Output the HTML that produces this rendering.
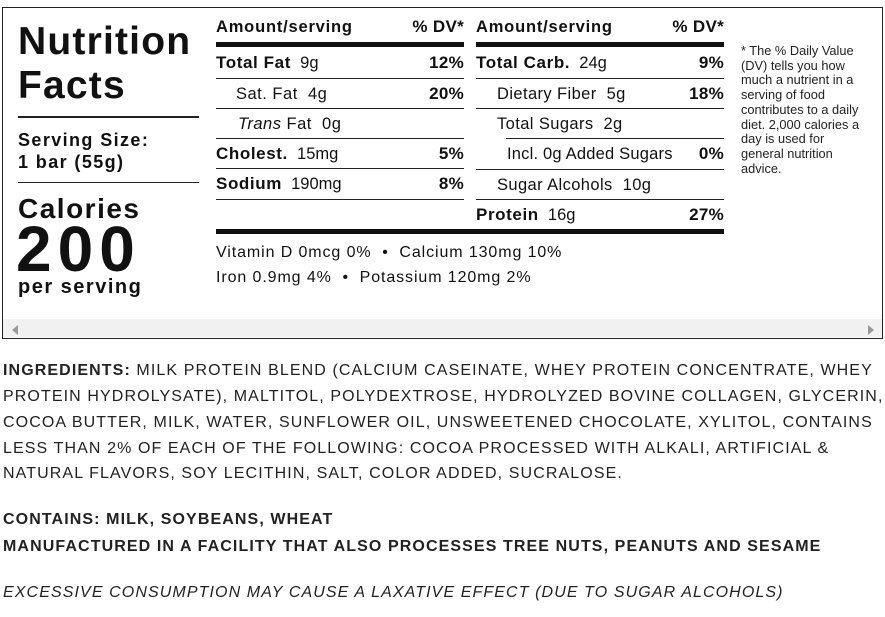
<!DOCTYPE html>
<html><head><style>
*{margin:0;padding:0;box-sizing:border-box}
body{width:885px;height:617px;background:#fff;font-family:"Liberation Sans",Arial,sans-serif;color:#111;position:relative;overflow:hidden}
.a{position:absolute;white-space:nowrap}
.box{position:absolute;left:2px;top:7px;width:881px;height:332px;border:1px solid #222}
.sb{position:absolute;left:3px;top:319px;width:879px;height:18px;background:#f1f1f1}
.b{font-weight:bold}
.r{position:absolute;height:1px;background:#222}
.tk{position:absolute;height:5px;background:#111}
.row{position:absolute;font-size:16.5px;line-height:20px;white-space:nowrap}
.row b{letter-spacing:0.6px}
.pct{position:absolute;font-size:17px;font-weight:bold;text-align:right;line-height:20px;letter-spacing:0.3px}
.ing{position:absolute;left:3px;font-size:16px;color:#222;letter-spacing:1.1px;white-space:nowrap}
</style></head><body>
<div class="box"></div>
<div class="sb"></div>
<div class="a" style="left:12px;top:325px;width:0;height:0;border-top:5px solid transparent;border-bottom:5px solid transparent;border-right:6px solid #999"></div>
<div class="a" style="left:868px;top:325px;width:0;height:0;border-top:5px solid transparent;border-bottom:5px solid transparent;border-left:6px solid #999"></div>

<div class="a b" style="left:18px;top:20px;font-size:39px;line-height:44px;letter-spacing:1.2px">Nutrition<br>Facts</div>
<div class="r" style="left:18px;top:116px;width:181px;height:2px"></div>
<div class="a b" style="left:18px;top:129px;font-size:18px;line-height:22px;letter-spacing:1.4px">Serving Size:<br>1 bar (55g)</div>
<div class="r" style="left:18px;top:182px;width:181px"></div>
<div class="a b" style="left:18px;top:193px;font-size:28px;line-height:32px;letter-spacing:1.5px">Calories</div>
<div class="a b" style="left:16px;top:216px;font-size:64px;line-height:66px;letter-spacing:6px">200</div>
<div class="a b" style="left:18px;top:276px;font-size:20px;line-height:22px;letter-spacing:1.5px">per serving</div>

<!-- middle table -->
<div class="row b" style="left:216px;top:17px;font-size:16.5px;letter-spacing:0.8px">Amount/serving</div>
<div class="pct" style="left:364px;width:100px;top:17px">% DV*</div>
<div class="tk" style="left:216px;top:42px;width:248px"></div>
<div class="row" style="left:216px;top:53px"><b style="font-size:17px">Total Fat</b>&nbsp; 9g</div><div class="pct" style="left:364px;width:100px;top:53px">12%</div>
<div class="r" style="left:216px;top:78px;width:248px"></div>
<div class="row" style="left:236px;top:84px;letter-spacing:0.5px">Sat. Fat&nbsp; 4g</div><div class="pct" style="left:364px;width:100px;top:84px">20%</div>
<div class="r" style="left:216px;top:108px;width:248px"></div>
<div class="row" style="left:238px;top:114px;letter-spacing:0.5px"><i>Trans</i> Fat&nbsp; 0g</div>
<div class="r" style="left:216px;top:138px;width:248px"></div>
<div class="row" style="left:216px;top:144px"><b style="font-size:17px">Cholest.</b>&nbsp; 15mg</div><div class="pct" style="left:364px;width:100px;top:144px">5%</div>
<div class="r" style="left:216px;top:168px;width:248px"></div>
<div class="row" style="left:216px;top:174px"><b style="font-size:17px">Sodium</b>&nbsp; 190mg</div><div class="pct" style="left:364px;width:100px;top:174px">8%</div>
<div class="r" style="left:216px;top:199px;width:248px"></div>

<!-- right table -->
<div class="row b" style="left:476px;top:17px;font-size:16.5px;letter-spacing:0.8px">Amount/serving</div>
<div class="pct" style="left:624px;width:100px;top:17px">% DV*</div>
<div class="tk" style="left:476px;top:42px;width:248px"></div>
<div class="row" style="left:476px;top:53px"><b style="font-size:17px">Total Carb.</b>&nbsp; 24g</div><div class="pct" style="left:624px;width:100px;top:53px">9%</div>
<div class="r" style="left:476px;top:78px;width:248px"></div>
<div class="row" style="left:497px;top:84px;letter-spacing:0.4px">Dietary Fiber&nbsp; 5g</div><div class="pct" style="left:624px;width:100px;top:84px">18%</div>
<div class="r" style="left:476px;top:108px;width:248px"></div>
<div class="row" style="left:497px;top:114px;letter-spacing:0.4px">Total Sugars&nbsp; 2g</div>
<div class="r" style="left:506px;top:138px;width:218px"></div>
<div class="row" style="left:507px;top:144px;letter-spacing:0.2px">Incl. 0g Added Sugars</div><div class="pct" style="left:624px;width:100px;top:144px">0%</div>
<div class="r" style="left:476px;top:169px;width:248px"></div>
<div class="row" style="left:497px;top:175px;letter-spacing:0.4px">Sugar Alcohols&nbsp; 10g</div>
<div class="r" style="left:476px;top:199px;width:248px"></div>
<div class="row" style="left:476px;top:205px"><b style="font-size:17px">Protein</b>&nbsp; 16g</div><div class="pct" style="left:624px;width:100px;top:205px">27%</div>
<div class="tk" style="left:216px;top:229px;width:508px"></div>

<div class="row" style="left:216px;top:243px;font-size:16px;letter-spacing:0.9px">Vitamin D 0mcg 0% &nbsp;•&nbsp; Calcium 130mg 10%</div>
<div class="row" style="left:216px;top:268px;font-size:16px;letter-spacing:0.9px">Iron 0.9mg 4% &nbsp;•&nbsp; Potassium 120mg 2%</div>

<div class="a" style="left:741px;top:44px;font-size:12.8px;line-height:14.7px;color:#222">* The % Daily Value<br>(DV) tells you how<br>much a nutrient in a<br>serving of food<br>contributes to a daily<br>diet. 2,000 calories a<br>day is used for<br>general nutrition<br>advice.</div>

<div class="ing" style="top:362px"><b>INGREDIENTS:</b> MILK PROTEIN BLEND (CALCIUM CASEINATE, WHEY PROTEIN CONCENTRATE, WHEY</div>
<div class="ing" style="top:388px">PROTEIN HYDROLYSATE), MALTITOL, POLYDEXTROSE, HYDROLYZED BOVINE COLLAGEN, GLYCERIN,</div>
<div class="ing" style="top:414px">COCOA BUTTER, MILK, WATER, SUNFLOWER OIL, UNSWEETENED CHOCOLATE, XYLITOL, CONTAINS</div>
<div class="ing" style="top:440px">LESS THAN 2% OF EACH OF THE FOLLOWING: COCOA PROCESSED WITH ALKALI, ARTIFICIAL &amp;</div>
<div class="ing" style="top:465px">NATURAL FLAVORS, SOY LECITHIN, SALT, COLOR ADDED, SUCRALOSE.</div>
<div class="ing b" style="top:511px">CONTAINS: MILK, SOYBEANS, WHEAT</div>
<div class="ing b" style="top:538px">MANUFACTURED IN A FACILITY THAT ALSO PROCESSES TREE NUTS, PEANUTS AND SESAME</div>
<div class="ing" style="top:584px;font-style:italic">EXCESSIVE CONSUMPTION MAY CAUSE A LAXATIVE EFFECT (DUE TO SUGAR ALCOHOLS)</div>
</body></html>
